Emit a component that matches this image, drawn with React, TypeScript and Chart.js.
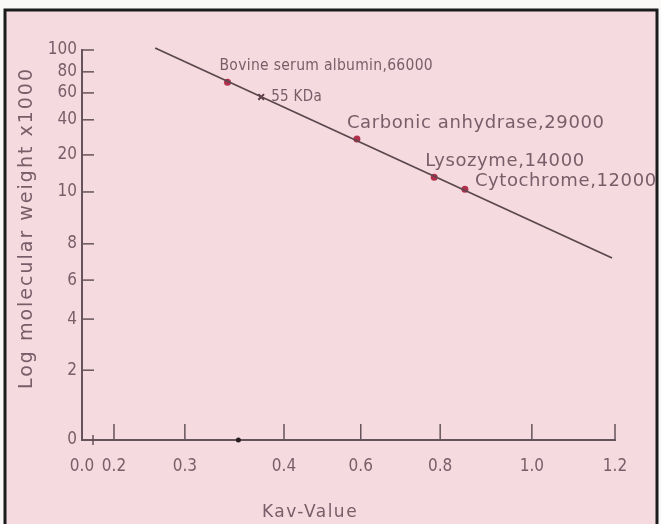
import React, { useEffect, useRef } from 'react';
import { Chart, registerables, LinearScale } from 'chart.js';

// ---------------- data ----------------
const xTickValues = [0.0, 0.2, 0.3, 0.4, 0.6, 0.8, 1.0, 1.2];
const xTickLabels = ['0.0', '0.2', '0.3', '0.4', '0.6', '0.8', '1.0', '1.2'];
const yTickValues = [0, 2, 4, 6, 8, 10, 20, 40, 60, 80, 100];
const yTickLabels = ['0', '2', '4', '6', '8', '10', '20', '40', '60', '80', '100'];

const proteinNames = [
  'Bovine serum albumin,66000',
  'Carbonic anhydrase,29000',
  'Lysozyme,14000',
  'Cytochrome,12000',
];
const proteinKav = [0.343, 0.59, 0.785, 0.854];
const proteinMW = [70, 29, 14, 10.7];

const unknownName = '55 KDa';
const unknownKav = [0.377];
const unknownMW = [57];

const axisDotKav = [0.354];
const axisDotMW = [0];
const axisCrossKav = [0.069];
const axisCrossMW = [0];

const fitKav = [0.258, 1.193];
const fitMW = [101.8, 7.22];

const xTitle = 'Kav-Value';
const yTitle = 'Log molecular weight x1000';

// ---------------- layout (hand-drawn, uneven axis spacing) ----------------
const xTickFractions = [0, 0.06, 0.193, 0.379, 0.523, 0.672, 0.844, 1.0];
const yTickFractions = [0, 0.179, 0.31, 0.41, 0.503, 0.636, 0.731, 0.821, 0.89, 0.944, 1.0];
const proteinLabelOffsets = [[-8, -16], [-10, -16], [-9, -16], [10, -8]];
const proteinLabelSizes = [15.5, 18, 18, 18];
const proteinLabelSpacing = [0.3, 0.6, 0.6, 0.6];

const TEXT = '#7a5d69';
const AXIS = '#65545b';
const DOT = '#b3304c';
const FONT = '"DejaVu Sans", sans-serif';
const COND = '"DejaVu Sans Condensed", "DejaVu Sans", sans-serif';

const axisMaps: Record<string, { values: number[]; fracs: number[] }> = {
  x: { values: xTickValues, fracs: xTickFractions },
  y: { values: yTickValues, fracs: yTickFractions },
};

function interp(a: number[], b: number[], v: number) {
  let i = 0;
  if (v <= a[0]) i = 0;
  else if (v >= a[a.length - 1]) i = a.length - 2;
  else {
    while (i < a.length - 2 && v > a[i + 1]) i++;
  }
  const t = (v - a[i]) / (a[i + 1] - a[i]);
  return b[i] + t * (b[i + 1] - b[i]);
}

class PiecewiseScale extends (LinearScale as any) {
  static id = 'piecewise';
  static defaults = {};
  map() {
    return axisMaps[(this as any).id];
  }
  determineDataLimits() {
    const m = this.map();
    (this as any).min = interp(m.fracs, m.values, 0);
    (this as any).max = interp(m.fracs, m.values, 1);
  }
  buildTicks() {
    const m = this.map();
    (this as any).start = (this as any).min;
    (this as any).end = (this as any).max;
    return m.values.map((v: number) => ({ value: v }));
  }
  getPixelForValue(value: number) {
    const m = this.map();
    return (this as any).getPixelForDecimal(interp(m.values, m.fracs, value));
  }
  getValueForPixel(pixel: number) {
    const m = this.map();
    return interp(m.fracs, m.values, (this as any).getDecimalForPixel(pixel));
  }
}

Chart.register(...registerables, PiecewiseScale as any);

function line(ctx: CanvasRenderingContext2D, x1: number, y1: number, x2: number, y2: number) {
  ctx.beginPath();
  ctx.moveTo(x1, y1);
  ctx.lineTo(x2, y2);
  ctx.stroke();
}

const framePlugin = {
  id: 'frame',
  beforeDraw(chart: any) {
    const ctx = chart.ctx as CanvasRenderingContext2D;
    ctx.save();
    ctx.fillStyle = '#fbf8f8';
    ctx.fillRect(0, 0, chart.width, chart.height);
    ctx.fillStyle = '#f5dbdf';
    ctx.fillRect(5, 10, 652, 530);
    ctx.strokeStyle = '#1c1c1c';
    ctx.lineWidth = 3;
    ctx.strokeRect(5, 10, 652, 530);
    ctx.restore();
  },
  afterDraw(chart: any) {
    const ctx = chart.ctx as CanvasRenderingContext2D;
    const xs = chart.scales.x;
    const ys = chart.scales.y;
    ctx.save();
    ctx.strokeStyle = AXIS;
    ctx.lineWidth = 1.5;
    yTickValues.forEach((v) => {
      if (v === 0) return;
      const py = ys.getPixelForValue(v);
      line(ctx, xs.left, py, xs.left + 12, py);
    });
    xTickValues.forEach((v) => {
      if (v === 0) return;
      const px = xs.getPixelForValue(v);
      line(ctx, px, ys.bottom, px, ys.bottom - 16);
    });

    ctx.fillStyle = TEXT;
    ctx.textBaseline = 'middle';
    ctx.textAlign = 'left';
    proteinNames.forEach((name, i) => {
      const px = xs.getPixelForValue(proteinKav[i]);
      const py = ys.getPixelForValue(proteinMW[i]);
      const [dx, dy] = proteinLabelOffsets[i];
      ctx.font = `${proteinLabelSizes[i]}px ${i === 0 ? COND : FONT}`;
      (ctx as any).letterSpacing = `${proteinLabelSpacing[i]}px`;
      ctx.fillText(name, px + dx, py + dy);
    });
    {
      const px = xs.getPixelForValue(unknownKav[0]);
      const py = ys.getPixelForValue(unknownMW[0]);
      ctx.font = `15px ${COND}`;
      (ctx as any).letterSpacing = '0.3px';
      ctx.fillText(unknownName, px + 10, py);
    }
    // axis titles
    ctx.textAlign = 'center';
    ctx.font = `17px ${FONT}`;
    (ctx as any).letterSpacing = '1.5px';
    ctx.fillText(xTitle, 310, 513);
    ctx.translate(27, 228);
    ctx.rotate(-Math.PI / 2);
    ctx.font = `19px ${FONT}`;
    (ctx as any).letterSpacing = '2px';
    ctx.fillText(yTitle, 0, 0);
    ctx.restore();
  },
};

export default function App() {
  const ref = useRef<HTMLCanvasElement | null>(null);
  useEffect(() => {
    if (!ref.current) return;
    const chart = new Chart(ref.current, {
      type: 'scatter',
      data: {
        datasets: [
          {
            label: 'fit',
            data: fitKav.map((x, i) => ({ x, y: fitMW[i] })),
            showLine: true,
            borderColor: '#5b474f',
            borderWidth: 1.8,
            pointRadius: 0,
            clip: false as any,
          },
          {
            label: 'standards',
            data: proteinKav.map((x, i) => ({ x, y: proteinMW[i] })),
            backgroundColor: DOT,
            borderColor: DOT,
            borderWidth: 0,
            pointRadius: 3.5,
          },
          {
            label: 'unknown',
            data: unknownKav.map((x, i) => ({ x, y: unknownMW[i] })),
            pointStyle: 'crossRot',
            borderColor: '#5a3a45',
            borderWidth: 2,
            pointRadius: 4,
          },
          {
            label: 'axis dot',
            data: axisDotKav.map((x, i) => ({ x, y: axisDotMW[i] })),
            backgroundColor: '#2a1e22',
            borderWidth: 0,
            pointRadius: 2.5,
            clip: false as any,
          },
          {
            label: 'axis cross',
            data: axisCrossKav.map((x, i) => ({ x, y: axisCrossMW[i] })),
            pointStyle: 'cross',
            borderColor: AXIS,
            borderWidth: 1.5,
            pointRadius: 5,
            clip: false as any,
          },
        ],
      },
      options: {
        responsive: false,
        animation: false,
        events: [],
        layout: { padding: { left: 0, right: 46, top: 50, bottom: 0 } },
        plugins: { legend: { display: false }, tooltip: { enabled: false }, title: { display: false } },
        scales: {
          x: {
            type: 'piecewise' as any,
            position: 'bottom',
            grid: { display: false, drawTicks: false },
            border: { display: true, color: AXIS, width: 2 },
            ticks: {
              autoSkip: false,
              maxRotation: 0,
              padding: 16,
              color: TEXT,
              font: { family: COND, size: 17 },
              callback: (v: any) => xTickLabels[xTickValues.indexOf(Number(v))] ?? '',
            },
            afterFit: (s: any) => {
              s.height = 84;
            },
          },
          y: {
            type: 'piecewise' as any,
            position: 'left',
            grid: { display: false, drawTicks: false },
            border: { display: true, color: AXIS, width: 2 },
            ticks: {
              autoSkip: false,
              padding: 5,
              color: TEXT,
              font: { family: COND, size: 17 },
              callback: (v: any) => yTickLabels[yTickValues.indexOf(Number(v))] ?? '',
            },
            afterFit: (s: any) => {
              s.width = 82;
            },
          },
        },
      } as any,
      plugins: [framePlugin],
    });
    return () => chart.destroy();
  }, []);
  return (
    <div style={{ position: 'fixed', left: 0, top: 0, width: 661, height: 524 }}>
      <canvas ref={ref} width={661} height={524} style={{ display: 'block' }} />
    </div>
  );
}
